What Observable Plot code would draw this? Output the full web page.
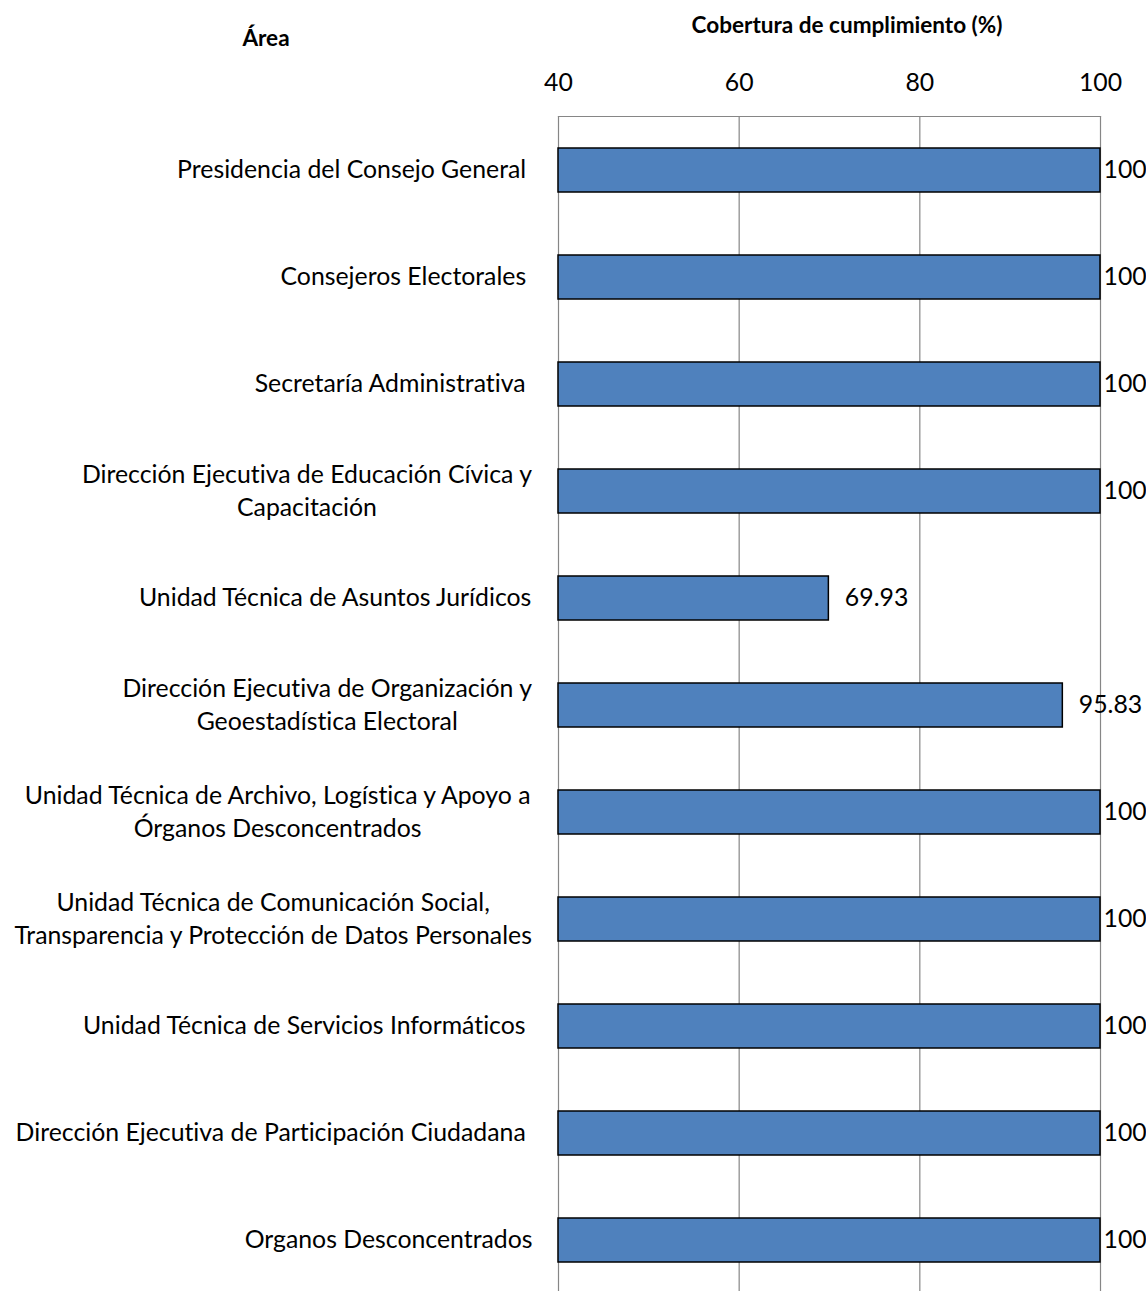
<!DOCTYPE html>
<html><head><meta charset="utf-8">
<script src="https://cdn.jsdelivr.net/npm/d3@7"></script>
<script src="https://cdn.jsdelivr.net/npm/@observablehq/plot@0.6"></script>
<style>
html,body{margin:0;padding:0;background:#fff;overflow:hidden;}
#wrap{position:relative;width:1146px;height:1291px;overflow:hidden;}
.hdr{position:absolute;font-family:Lato,sans-serif;font-weight:bold;color:#000;white-space:nowrap;transform:translate(-50%,-50%);line-height:1;font-variant-ligatures:none;}
#chart{position:absolute;left:0;top:0;}
svg text{white-space:pre;font-variant-ligatures:none;font-feature-settings:"liga" 0, "clig" 0;}
</style></head><body>
<div id="wrap">
<div id="chart"></div>
<div class="hdr" id="area" style="left:266px;top:38px;">Área</div>
<div class="hdr" id="tit" style="left:847px;top:25px;">Cobertura de cumplimiento (%)</div>
</div>
<script>
const categorias = [
  "Presidencia del Consejo General ",
  "Consejeros Electorales ",
  "Secretaría Administrativa ",
  "Dirección Ejecutiva de Educación Cívica y\nCapacitación",
  "Unidad Técnica de Asuntos Jurídicos",
  "Dirección Ejecutiva de Organización y\nGeoestadística Electoral",
  "Unidad Técnica de Archivo, Logística y Apoyo a\nÓrganos Desconcentrados",
  "Unidad Técnica de Comunicación Social,\nTransparencia y Protección de Datos Personales",
  "Unidad Técnica de Servicios Informáticos ",
  "Dirección Ejecutiva de Participación Ciudadana ",
  "Organos Desconcentrados"
];
const valores = [100, 100, 100, 100, 69.93, 95.83, 100, 100, 100, 100, 100];
const etiquetasValor = ["100", "100", "100", "100", "69.93", "95.83", "100", "100", "100", "100", "100"];
const ticksX = [40, 60, 80, 100];
const tituloEje = "Cobertura de cumplimiento (%)";
const tituloArea = "Área";

const data = categorias.map((c, i) => ({cat: c, v: valores[i], lab: etiquetasValor[i]}));

const FONT = "Lato, sans-serif";
const ctx = document.createElement("canvas").getContext("2d");
function tw(s, size, weight = "normal") { ctx.font = `${weight} ${size}px Lato`; return ctx.measureText(s).width; }
const fs = 22 * 519 / tw("Transparencia y Protección de Datos Personales", 22);
const hfs = 18 * 311 / tw(tituloEje, 18, "bold");
document.getElementById("tit").style.fontSize = hfs + "px";
document.getElementById("area").style.fontSize = hfs + "px";
document.getElementById("tit").textContent = tituloEje;
document.getElementById("area").textContent = tituloArea;

const gap = 26;
const labelMarks = data.map(d => {
  const w = d3.max(d.cat.split("\n"), l => tw(l, fs));
  return Plot.text([d], {
    frameAnchor: "left", y: "cat", text: "cat",
    textAnchor: "middle", lineAnchor: "middle",
    dx: -(gap + w / 2), dy: -3, fontSize: fs, lineHeight: 33 / fs, fill: "#000"
  });
});

const chart = Plot.plot({
  width: 1146,
  height: 1294,
  marginTop: 116,
  marginBottom: 0,
  marginLeft: 558,
  marginRight: 46,
  style: {fontFamily: FONT, background: "#fff", color: "#000"},
  x: {domain: [ticksX[0], ticksX[ticksX.length - 1]], axis: null},
  y: {domain: categorias, axis: null, paddingInner: 0.59, paddingOuter: 0.295},
  marks: [
    Plot.ruleX(ticksX, {stroke: "#868686", strokeWidth: 1.2}),
    Plot.frame({anchor: "top", stroke: "#868686", strokeWidth: 1.2}),
    Plot.barX(data, {x1: () => ticksX[0], x2: "v", y: "cat", fill: "#4F81BD", stroke: "#000", strokeWidth: 1.5}),
    Plot.text(data.filter(d => d.v >= 100), {x: "v", y: "cat", text: "lab", textAnchor: "start", dx: 3, fontSize: fs, fill: "#000"}),
    Plot.text(data.filter(d => d.v < 100), {x: "v", y: "cat", text: "lab", textAnchor: "start", dx: 16, fontSize: fs, fill: "#000"}),
    Plot.axisX({anchor: "top", ticks: ticksX, tickSize: 0, tickPadding: 26, fontSize: fs, label: null, tickFormat: d => String(d)}),
    ...labelMarks
  ]
});
document.getElementById("chart").appendChild(chart);
</script>
</body></html>
